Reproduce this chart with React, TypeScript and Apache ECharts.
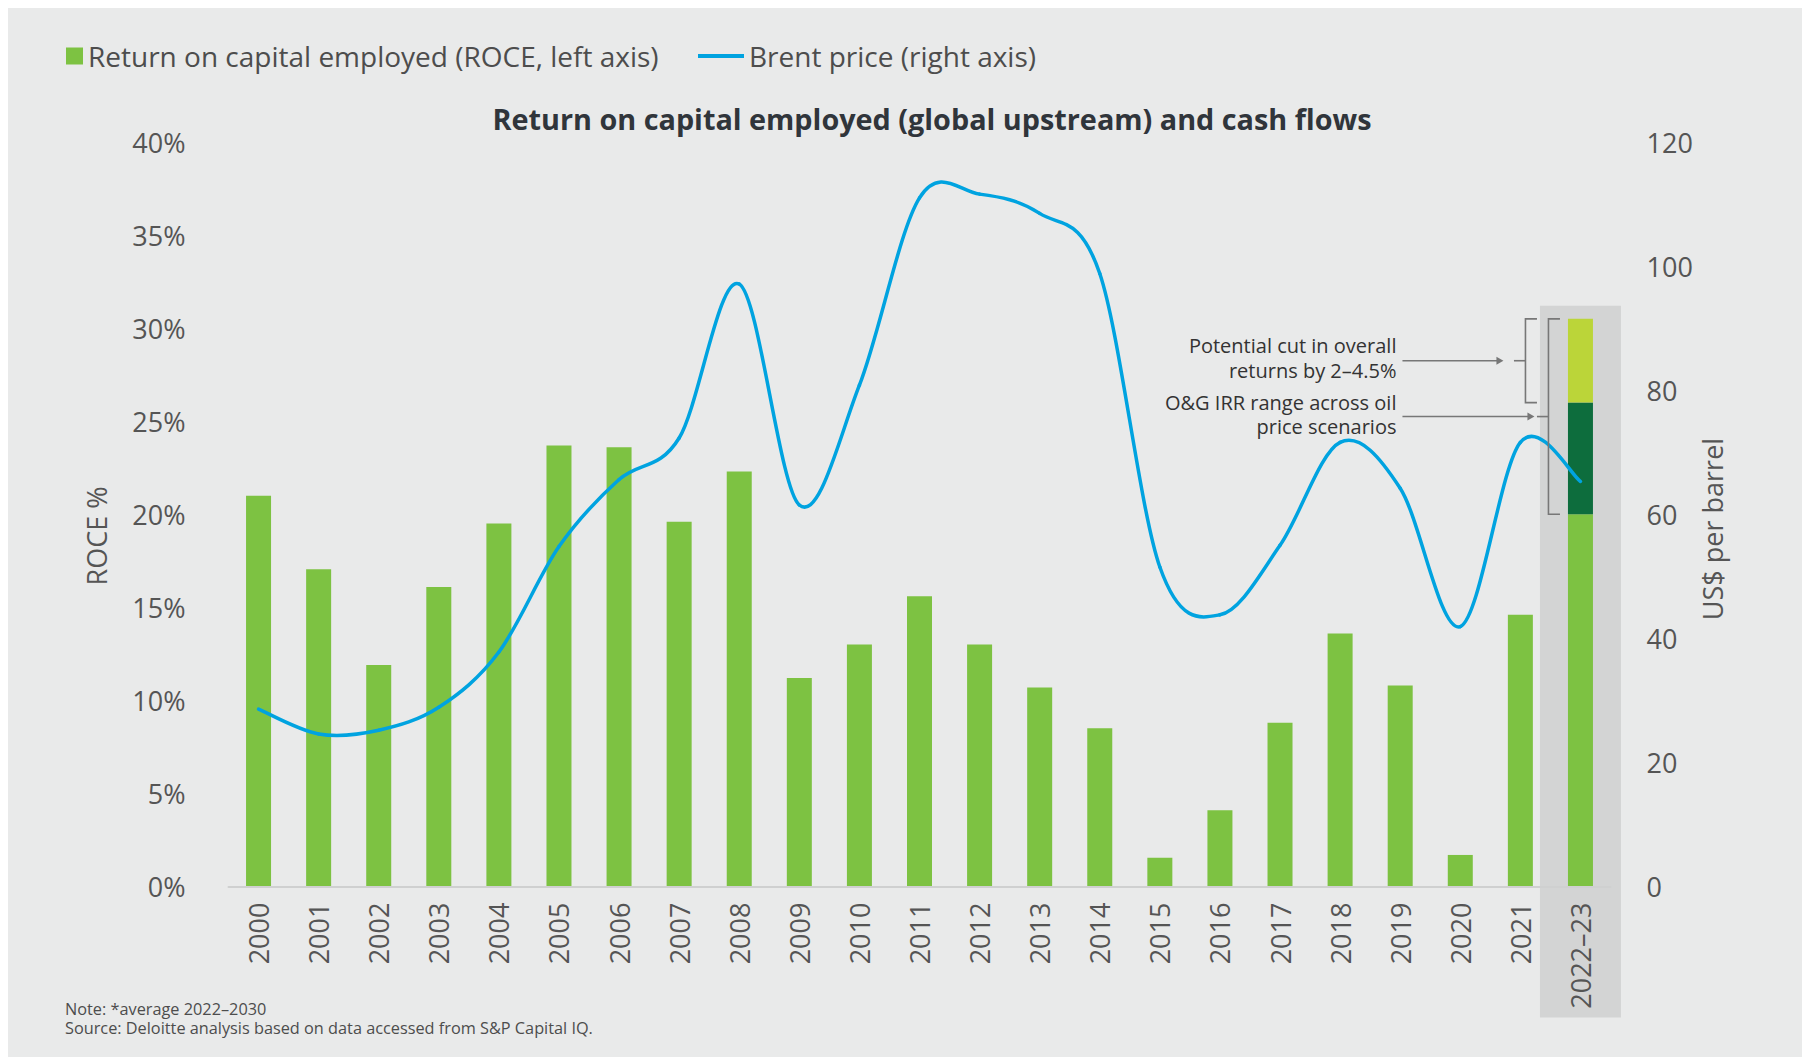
import React, { useEffect, useRef } from "react";
import * as echarts from "echarts";

const categories = [
  "2000", "2001", "2002", "2003", "2004", "2005", "2006", "2007", "2008", "2009", "2010",
  "2011", "2012", "2013", "2014", "2015", "2016", "2017", "2018", "2019", "2020", "2021", "2022–23",
];

// ROCE (%) – last value is the base of the 2022–23 stacked bar
const roce = [
  21.0, 17.05, 11.9, 16.1, 19.5, 23.7, 23.6, 19.6, 22.3, 11.2, 13.0,
  15.6, 13.0, 10.7, 8.5, 1.55, 4.1, 8.8, 13.6, 10.8, 1.7, 14.6, 20.0,
];
// O&G IRR range across oil price scenarios (only 2022–23)
const irrRange = [
  null, null, null, null, null, null, null, null, null, null, null,
  null, null, null, null, null, null, null, null, null, null, null, 6.0,
];
// Potential cut in overall returns (only 2022–23)
const potentialCut = [
  null, null, null, null, null, null, null, null, null, null, null,
  null, null, null, null, null, null, null, null, null, null, null, 4.5,
];
// Brent price (US$ per barrel)
const brent = [
  28.6, 24.6, 25.2, 28.9, 37.8, 54.8, 65.6, 72.3, 97.1, 61.5, 80.8,
  111.0, 111.6, 108.5, 98.8, 51.5, 43.8, 55.0, 71.6, 64.2, 41.9, 71.6, 65.3,
];

const leftTicks = { min: 0, max: 40, interval: 5 };
const rightTicks = { min: 0, max: 120, interval: 20 };

const legendRoce = "Return on capital employed (ROCE, left axis)";
const legendBrent = "Brent price (right axis)";
const titleText = "Return on capital employed (global upstream) and cash flows";
const noteText = "Note: *average 2022–2030";
const sourceText = "Source: Deloitte analysis based on data accessed from S&P Capital IQ.";
const annotCut = ["Potential cut in overall", "returns by 2–4.5%"];
const annotIrr = ["O&G IRR range across oil", "price scenarios"];

const FONT = "'Open Sans', 'Noto Sans', sans-serif";
const GREEN = "#7dc242";
const DARK_GREEN = "#0d6d3d";
const LIGHT_GREEN = "#bbd539";
const BLUE = "#00a3e0";
const BG = "#e9eaea";
const BAND = "#d3d4d4";
const LABEL = "#555555";

export default function App() {
  const ref = useRef<HTMLDivElement>(null);

  useEffect(() => {
    if (!ref.current) return;
    const chart = echarts.init(ref.current, null, { renderer: "svg" });
    const last = categories.length - 1;
    const base = roce[last] as number;
    const mid = base + (irrRange[last] as number);
    const top = mid + (potentialCut[last] as number);

    const annotText = (x: number, y: number, text: string) => ({
      type: "text",
      x,
      y,
      style: {
        text,
        fill: "#333333",
        fontSize: 20,
        fontFamily: FONT,
        align: "right",
        verticalAlign: "middle",
      },
    });

    const option: any = {
      animation: false,
      backgroundColor: "transparent",
      textStyle: { fontFamily: FONT },
      legend: [
        {
          data: [{ name: legendRoce, icon: "rect" }],
          left: 58,
          top: 34,
          padding: 0,
          itemWidth: 17,
          itemHeight: 17,
          selectedMode: false,
          textStyle: { fontSize: 28, color: "#4d4d4d", fontFamily: FONT },
        },
        {
          data: [{ name: legendBrent, icon: "rect", itemStyle: { color: BLUE } }],
          left: 690,
          top: 34,
          padding: 0,
          itemWidth: 46,
          itemHeight: 4,
          selectedMode: false,
          textStyle: { fontSize: 28, color: "#4d4d4d", fontFamily: FONT },
        },
      ],
      grid: { left: 220.5, right: 192.5, top: 134, bottom: 170.4, containLabel: false },
      xAxis: {
        type: "category",
        data: categories,
        z: 6,
        axisLine: { show: true, lineStyle: { color: "#cfd0d0", width: 2 } },
        axisTick: { show: false },
        axisLabel: {
          rotate: 90,
          margin: 16,
          fontSize: 27,
          color: LABEL,
          fontFamily: FONT,
          interval: 0,
        },
        splitLine: { show: false },
      },
      yAxis: [
        {
          type: "value",
          min: leftTicks.min,
          max: leftTicks.max,
          interval: leftTicks.interval,
          axisLine: { show: false },
          axisTick: { show: false },
          splitLine: { show: false },
          axisLabel: {
            formatter: "{value}%",
            margin: 43,
            fontSize: 27,
            color: LABEL,
            fontFamily: FONT,
          },
        },
        {
          type: "value",
          min: rightTicks.min,
          max: rightTicks.max,
          interval: rightTicks.interval,
          position: "right",
          axisLine: { show: false },
          axisTick: { show: false },
          splitLine: { show: false },
          axisLabel: { margin: 36, fontSize: 27, color: LABEL, fontFamily: FONT },
        },
      ],
      graphic: [
        {
          type: "text",
          x: 924,
          y: 110,
          style: {
            text: titleText,
            fill: "#30353b",
            fontSize: 28.8,
            fontWeight: "bold",
            fontFamily: FONT,
            align: "center",
            verticalAlign: "middle",
          },
        },
        {
          type: "text",
          x: 88,
          y: 528,
          rotation: Math.PI / 2,
          style: {
            text: "ROCE %",
            fill: LABEL,
            fontSize: 27,
            fontFamily: FONT,
            align: "center",
            verticalAlign: "middle",
          },
        },
        {
          type: "text",
          x: 1704,
          y: 521,
          rotation: Math.PI / 2,
          style: {
            text: "US$ per barrel",
            fill: LABEL,
            fontSize: 27,
            fontFamily: FONT,
            align: "center",
            verticalAlign: "middle",
          },
        },
        {
          type: "text",
          x: 57,
          y: 1001,
          style: {
            text: noteText,
            fill: "#4d4d4d",
            fontSize: 16.3,
            fontFamily: FONT,
            align: "left",
            verticalAlign: "middle",
          },
        },
        {
          type: "text",
          x: 57,
          y: 1020,
          style: {
            text: sourceText,
            fill: "#4d4d4d",
            fontSize: 16.3,
            fontFamily: FONT,
            align: "left",
            verticalAlign: "middle",
          },
        },
      ],
      series: [
        {
          type: "custom",
          name: "band",
          z: 1,
          silent: true,
          clip: false,
          data: [[last, top]],
          renderItem: (params: any, api: any) => {
            const t = api.coord([api.value(0), api.value(1)]);
            const b = api.coord([api.value(0), 0]);
            const y0 = t[1] - 13;
            const y1 = b[1] + 131;
            return {
              type: "rect",
              shape: { x: t[0] - 40.5, y: y0, width: 81, height: y1 - y0 },
              style: { fill: BAND },
            };
          },
        },
        {
          type: "bar",
          name: legendRoce,
          stack: "roce",
          data: roce,
          barWidth: 25,
          z: 2,
          itemStyle: { color: GREEN },
        },
        {
          type: "bar",
          name: "O&G IRR range",
          stack: "roce",
          data: irrRange,
          barWidth: 25,
          z: 2,
          itemStyle: { color: DARK_GREEN },
        },
        {
          type: "bar",
          name: "Potential cut",
          stack: "roce",
          data: potentialCut,
          barWidth: 25,
          z: 2,
          itemStyle: { color: LIGHT_GREEN },
        },
        {
          // Brent line, smoothed like a spreadsheet (Catmull-Rom through the data points)
          type: "custom",
          name: legendBrent,
          yAxisIndex: 1,
          z: 3,
          silent: true,
          clip: false,
          color: BLUE,
          itemStyle: { color: BLUE },
          data: brent.map((v, i) => [i, v]),
          renderItem: (params: any, api: any) => {
            const i = params.dataIndex;
            const n = brent.length;
            if (i >= n - 1) return { type: "group", children: [] };
            const P = (j: number) => {
              const k = Math.max(0, Math.min(n - 1, j));
              return api.coord([k, brent[k]]);
            };
            const p0 = P(i - 1);
            const p1 = P(i);
            const p2 = P(i + 1);
            const p3 = P(i + 2);
            return {
              type: "bezierCurve",
              shape: {
                x1: p1[0],
                y1: p1[1],
                cpx1: p1[0] + (p2[0] - p0[0]) / 6,
                cpy1: p1[1] + (p2[1] - p0[1]) / 6,
                cpx2: p2[0] - (p3[0] - p1[0]) / 6,
                cpy2: p2[1] - (p3[1] - p1[1]) / 6,
                x2: p2[0],
                y2: p2[1],
              },
              style: { stroke: BLUE, lineWidth: 3.5, fill: "none", lineCap: "round" },
            };
          },
        },
        {
          type: "custom",
          name: "annotations",
          z: 4,
          silent: true,
          clip: false,
          data: [[last, top, mid, base]],
          renderItem: (params: any, api: any) => {
            const i = api.value(0);
            const pTop = api.coord([i, api.value(1)]);
            const pMid = api.coord([i, api.value(2)]);
            const pBase = api.coord([i, api.value(3)]);
            const cx = pTop[0];
            const yT = pTop[1];
            const yM = pMid[1];
            const yB = pBase[1];
            const m1 = (yT + yM) / 2;
            const m2 = (yT + yB) / 2;
            const ls = { stroke: "#777777", lineWidth: 1.6, fill: "none" };
            const bx1 = cx - 55;
            const bx2 = cx - 32;
            const tx = cx - 184;
            const children: any[] = [
              // bracket 1 (potential cut)
              {
                type: "polyline",
                shape: { points: [[cx - 43.5, yT], [bx1, yT], [bx1, yM], [cx - 43.5, yM]] },
                style: ls,
              },
              { type: "line", shape: { x1: cx - 66.5, y1: m1, x2: bx1, y2: m1 }, style: ls },
              { type: "line", shape: { x1: cx - 178, y1: m1, x2: cx - 82, y2: m1 }, style: ls },
              {
                type: "polygon",
                shape: { points: [[cx - 77, m1], [cx - 84, m1 - 4], [cx - 84, m1 + 4]] },
                style: { fill: "#777777" },
              },
              // bracket 2 (IRR range)
              {
                type: "polyline",
                shape: { points: [[cx - 20.5, yT], [bx2, yT], [bx2, yB], [cx - 20.5, yB]] },
                style: ls,
              },
              { type: "line", shape: { x1: cx - 43.5, y1: m2, x2: bx2, y2: m2 }, style: ls },
              { type: "line", shape: { x1: cx - 178, y1: m2, x2: cx - 51, y2: m2 }, style: ls },
              {
                type: "polygon",
                shape: { points: [[cx - 46, m2], [cx - 53, m2 - 4], [cx - 53, m2 + 4]] },
                style: { fill: "#777777" },
              },
              annotText(tx, m1 - 15, annotCut[0]),
              annotText(tx, m1 + 9.5, annotCut[1]),
              annotText(tx, m2 - 14, annotIrr[0]),
              annotText(tx, m2 + 10, annotIrr[1]),
            ];
            return { type: "group", children };
          },
        },
      ],
    };

    chart.setOption(option);
    return () => chart.dispose();
  }, []);

  return <div ref={ref} style={{ width: 1795, height: 1049, background: BG }} />;
}
